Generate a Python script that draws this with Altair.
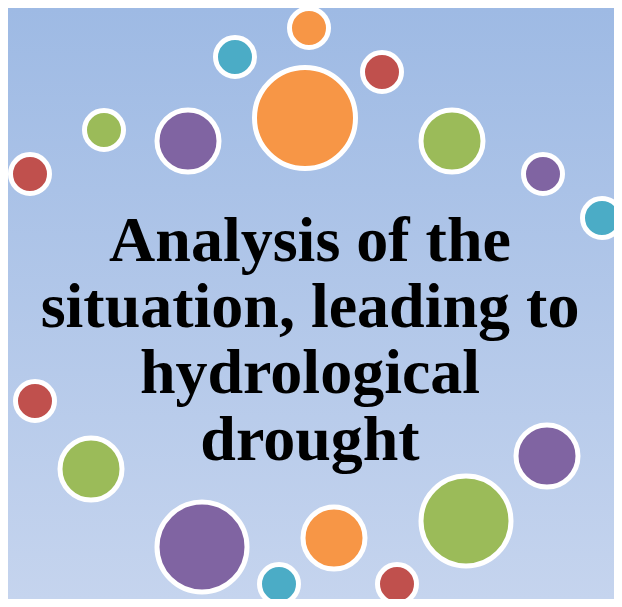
import altair as alt
import pandas as pd

# ---- data ----
circle_x = [309, 235, 382, 305, 104, 188, 452, 30, 543, 602, 35, 91, 547, 202, 334, 466, 279, 397]
circle_y = [28, 57, 72, 118, 130, 141, 141, 174, 174, 218, 401, 469, 456, 547, 538, 521, 584, 584]
circle_r = [22, 22, 22, 53, 22, 33.5, 33.5, 22, 22, 22, 22, 33.5, 33.5, 47.5, 33.5, 47.5, 22, 22]
circle_c = ["orange", "teal", "red", "orange", "green", "purple", "green", "red", "purple", "teal",
            "red", "green", "purple", "purple", "orange", "green", "teal", "red"]

text_lines = ["Analysis of the", "situation, leading to", "hydrological", "drought"]
text_x = [310, 310, 310, 310]
text_y = [261, 327, 393, 460]

color_names = ["orange", "teal", "red", "green", "purple"]
color_values = ["#f79646", "#4bacc6", "#c0504d", "#9bbb59", "#8064a2"]

STROKE = 5
W, H = 606, 591

circles = pd.DataFrame({"x": circle_x, "y": circle_y, "R": circle_r, "c": circle_c})
texts = pd.DataFrame({"x": text_x, "y": text_y, "t": text_lines})

xs = alt.Scale(domain=[8, 8 + W], nice=False, zero=False)
ys = alt.Scale(domain=[8, 8 + H], nice=False, zero=False, reverse=True)

bg = alt.Chart(pd.DataFrame({"a": [0]})).mark_rect(
    color=alt.Gradient(
        gradient="linear",
        stops=[alt.GradientStop(color="#9ebae4", offset=0),
               alt.GradientStop(color="#c5d4ee", offset=1)],
        x1=0, x2=0, y1=0, y2=1,
    )
).encode(x=alt.value(0), x2=alt.value(W), y=alt.value(0), y2=alt.value(H))

# Vega circle symbol: radius = sqrt(size) / 2
dots = alt.Chart(circles).transform_calculate(
    area=f"4 * (datum.R - {STROKE / 2}) * (datum.R - {STROKE / 2})"
).mark_circle(opacity=1, stroke="white", strokeWidth=STROKE, strokeOpacity=1).encode(
    x=alt.X("x:Q", scale=xs, axis=None),
    y=alt.Y("y:Q", scale=ys, axis=None),
    size=alt.Size("area:Q", scale=None, legend=None),
    color=alt.Color("c:N", scale=alt.Scale(domain=color_names, range=color_values), legend=None),
)

txt = alt.Chart(texts).mark_text(
    font="Liberation Serif", fontWeight="bold", fontSize=64, color="black",
    align="center", baseline="alphabetic",
).encode(
    x=alt.X("x:Q", scale=xs, axis=None),
    y=alt.Y("y:Q", scale=ys, axis=None),
    text="t:N",
)

chart = alt.layer(bg, dots, txt).properties(
    width=W, height=H, padding=0, autosize=alt.AutoSizeParams(type="none"),
    background="#b0c6ea",
).configure_view(stroke=None)

chart.save("out.html", embed_options={"renderer": "svg", "actions": False})
